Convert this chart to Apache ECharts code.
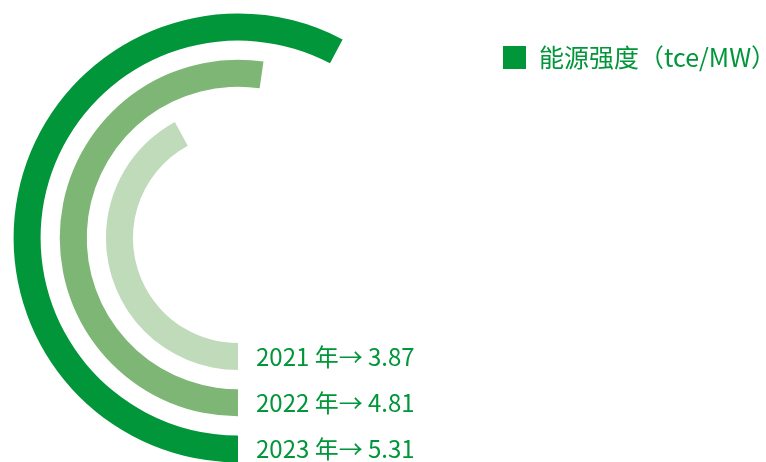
<!DOCTYPE html>
<html>
<head>
<meta charset="utf-8">
<script src="https://cdn.jsdelivr.net/npm/echarts@6/dist/echarts.min.js"></script>
<style>
html,body{margin:0;padding:0;background:#fff;}
#chart{width:766px;height:462px;}
</style>
</head>
<body>
<div id="chart"></div>
<script>
var years = ['2021', '2022', '2023'];
var values = [3.87, 4.81, 5.31];
var barColors = ['#c0dbb9', '#7eb675', '#009639'];
var seriesName = '能源强度（tce/MW）';

var categories = years.map(function (y, i) { return y + ' 年→ ' + values[i]; });

var chart = echarts.init(document.getElementById('chart'));
chart.setOption({
  animation: false,
  textStyle: { fontFamily: '"Noto Sans CJK SC", "Noto Sans", sans-serif' },
  legend: {
    data: [seriesName],
    left: 503,
    top: 45,
    padding: 0,
    icon: 'rect',
    itemWidth: 23,
    itemHeight: 23,
    textStyle: { fontSize: 25, color: '#009639', padding: [0, 0, 0, 8] }
  },
  polar: { center: [238, 238], radius: [95.5, 234] },
  angleAxis: {
    min: 0,
    max: 9.2,
    startAngle: 270,
    clockwise: true,
    show: false
  },
  radiusAxis: {
    type: 'category',
    data: categories,
    axisLine: { show: false },
    axisTick: { show: false },
    splitLine: { show: false },
    axisLabel: { fontSize: 24, color: '#009639', margin: 18, interval: 0, hideOverlap: false }
  },
  series: [{
    name: seriesName,
    type: 'bar',
    coordinateSystem: 'polar',
    barWidth: 27,
    itemStyle: { color: '#009639' },
    data: values.map(function (v, i) { return { value: v, itemStyle: { color: barColors[i] } }; })
  }]
});
</script>
</body>
</html>
